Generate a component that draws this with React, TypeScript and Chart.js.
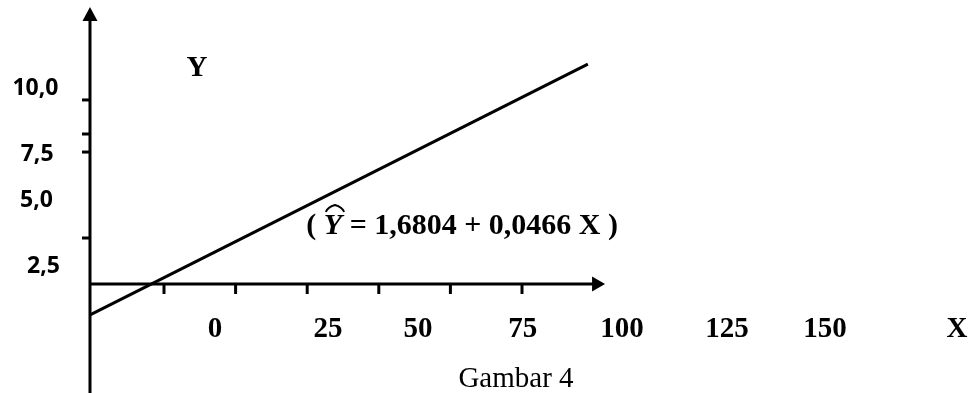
import React, { useEffect, useRef } from "react";
import { Chart, registerables } from "chart.js";

Chart.register(...registerables);

// Regression line (X, Ŷ) end points, in chart units
const lineX = [-25.8, 148];
const lineY = [-1.68, 11.95];

// Tick marks (chart units)
const xTicks = [0, 25, 50, 75, 100, 125];
const yTicks = [10, 8.15, 7.17, 2.5];

// Tick labels
const xTickLabels = ["0", "25", "50", "75", "100", "125", "150"];
const yTickLabels = ["10,0", "7,5", "5,0", "2,5"];

const axisXTitle = "X";
const axisYTitle = "Y";
const eqLeft = "( ";
const eqY = "Y";
const eqRight = " = 1,6804 + 0,0466 X )";
const caption = "Gambar 4";

// Layout (label anchors in chart units)
const LAYOUT = {
  xMin: -57.26,
  xMax: 281.07,
  yMin: -5.92,
  yMax: 15.43,
  yAxisAt: -25.84,
  xAxisEnd: 154.0,
  yAxisTop: 15.05,
  xLabelX: [17.8, 57.3, 88.7, 125.3, 159.9, 196.6, 230.8],
  xLabelBase: -2.88,
  yLabelX: [-44.9, -44.3, -44.5, -42.1],
  yLabelBase: [10.27, 6.68, 4.18, 0.6],
  yTitle: [11.5, 11.3],
  xTitle: [276.9, -2.88],
  eq: [104.1, 2.72],
  caption: [122.9, -5.6],
};

const SERIF = '"Liberation Serif", "Times New Roman", serif';
const SANS = '"Open Sans", "Liberation Sans", sans-serif';

const drawPlugin = {
  id: "figureDecor",
  afterDatasetsDraw(chart: any) {
    const ctx = chart.ctx as CanvasRenderingContext2D;
    const xs = chart.scales.x;
    const ys = chart.scales.y;
    const px = (v: number) => xs.getPixelForValue(v);
    const py = (v: number) => ys.getPixelForValue(v);
    ctx.save();
    ctx.strokeStyle = "#000";
    ctx.fillStyle = "#000";
    ctx.lineWidth = 3;
    ctx.lineCap = "butt";

    const ax = px(LAYOUT.yAxisAt);
    const ay = py(0);
    // Y axis
    ctx.beginPath();
    ctx.moveTo(ax, py(LAYOUT.yMin));
    ctx.lineTo(ax, py(LAYOUT.yAxisTop) + 10);
    ctx.stroke();
    const yt = py(LAYOUT.yAxisTop);
    ctx.beginPath();
    ctx.moveTo(ax, yt);
    ctx.lineTo(ax - 7.5, yt + 14);
    ctx.lineTo(ax + 7.5, yt + 14);
    ctx.closePath();
    ctx.fill();

    // X axis
    const xe = px(LAYOUT.xAxisEnd);
    ctx.beginPath();
    ctx.moveTo(ax, ay);
    ctx.lineTo(xe - 10, ay);
    ctx.stroke();
    ctx.beginPath();
    ctx.moveTo(xe, ay);
    ctx.lineTo(xe - 13, ay - 7.5);
    ctx.lineTo(xe - 13, ay + 7.5);
    ctx.closePath();
    ctx.fill();

    // ticks
    xTicks.forEach((t) => {
      const x = px(t);
      ctx.beginPath();
      ctx.moveTo(x, ay);
      ctx.lineTo(x, ay + 10);
      ctx.stroke();
    });
    yTicks.forEach((t) => {
      const y = py(t);
      ctx.beginPath();
      ctx.moveTo(ax, y);
      ctx.lineTo(ax - 8, y);
      ctx.stroke();
    });

    // labels
    ctx.textBaseline = "alphabetic";
    ctx.textAlign = "center";
    ctx.font = `bold 29px ${SERIF}`;
    xTickLabels.forEach((l, i) => {
      ctx.fillText(l, px(LAYOUT.xLabelX[i]), py(LAYOUT.xLabelBase));
    });
    ctx.fillText(axisXTitle, px(LAYOUT.xTitle[0]), py(LAYOUT.xTitle[1]));
    ctx.fillText(axisYTitle, px(LAYOUT.yTitle[0]), py(LAYOUT.yTitle[1]));

    ctx.font = `bold 23px ${SANS}`;
    yTickLabels.forEach((l, i) => {
      ctx.fillText(l, px(LAYOUT.yLabelX[i]), py(LAYOUT.yLabelBase[i]));
    });

    // equation
    const fB = `bold 30px ${SERIF}`;
    const fBI = `italic bold 30px ${SERIF}`;
    ctx.font = fB;
    const w1 = ctx.measureText(eqLeft).width;
    const w3 = ctx.measureText(eqRight).width;
    ctx.font = fBI;
    const w2 = ctx.measureText(eqY).width;
    const total = w1 + w2 + w3;
    let cx = px(LAYOUT.eq[0]) - total / 2;
    const by = py(LAYOUT.eq[1]);
    ctx.textAlign = "left";
    ctx.font = fB;
    ctx.fillText(eqLeft, cx, by);
    cx += w1;
    ctx.font = fBI;
    ctx.fillText(eqY, cx, by);
    // wide hat over Y
    ctx.lineWidth = 2;
    ctx.beginPath();
    const hx0 = cx + 2;
    const hx1 = cx + w2 + 2;
    const hTop = by - 29;
    const hBase = by - 22;
    ctx.moveTo(hx0, hBase);
    ctx.quadraticCurveTo(hx0 + 2, hTop + 2, (hx0 + hx1) / 2, hTop);
    ctx.quadraticCurveTo(hx1 - 2, hTop + 2, hx1, hBase);
    ctx.stroke();
    cx += w2;
    ctx.font = fB;
    ctx.fillText(eqRight, cx, by);

    ctx.textAlign = "center";
    ctx.font = `29px ${SERIF}`;
    ctx.fillText(caption, px(LAYOUT.caption[0]), py(LAYOUT.caption[1]));
    ctx.restore();
  },
};

export default function App() {
  const ref = useRef<HTMLCanvasElement | null>(null);
  useEffect(() => {
    document.body.style.margin = "0";
    const canvas = ref.current;
    if (!canvas) return;
    const chart = new Chart(canvas, {
      type: "scatter",
      data: {
        datasets: [
          {
            data: lineX.map((x, i) => ({ x, y: lineY[i] })),
            showLine: true,
            borderColor: "#000",
            borderWidth: 3,
            pointRadius: 0,
            fill: false,
          },
        ],
      },
      options: {
        animation: false,
        responsive: false,
        devicePixelRatio: 1,
        layout: { padding: 0 },
        plugins: { legend: { display: false }, tooltip: { enabled: false } },
        scales: {
          x: { type: "linear", display: false, min: LAYOUT.xMin, max: LAYOUT.xMax },
          y: { type: "linear", display: false, min: LAYOUT.yMin, max: LAYOUT.yMax },
        },
      },
      plugins: [drawPlugin],
    });
    return () => chart.destroy();
  }, []);
  return (
    <canvas
      ref={ref}
      width={969}
      height={393}
      style={{ display: "block", width: 969, height: 393, background: "#fff" }}
    />
  );
}
